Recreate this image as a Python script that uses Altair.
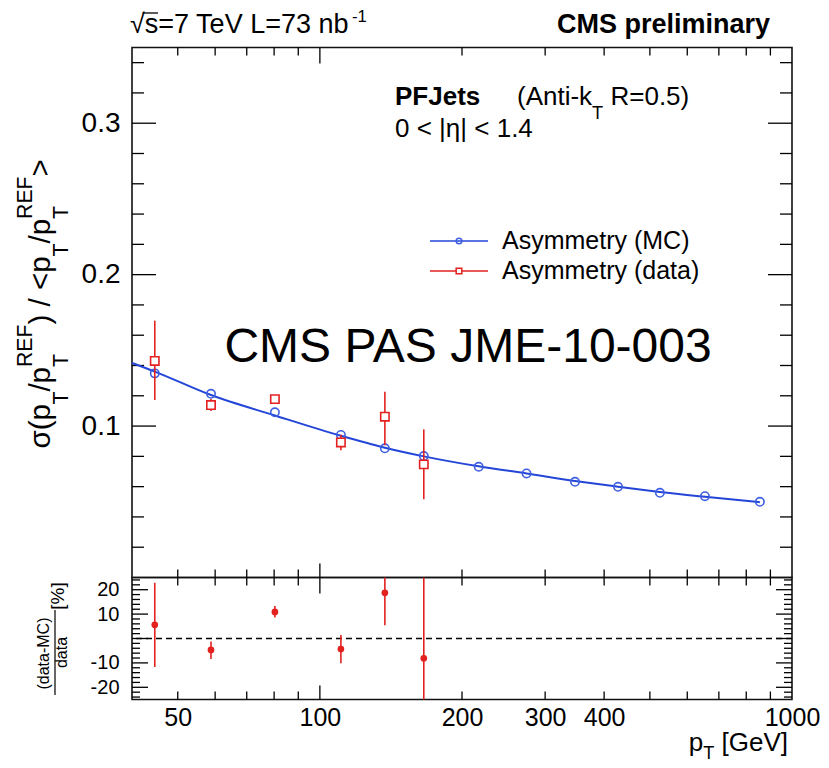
import altair as alt
import pandas as pd

# ---------------- values ----------------
# jet pT bin centres [GeV]
pt_bins = [44.7, 58.8, 80.3, 110.8, 137.3, 166.0, 217.0, 274.0, 347.0, 428.0, 525.0, 654.0, 855.0]
# asymmetry-based resolution, simulation
asym_mc = [0.1348, 0.1213, 0.1091, 0.0941, 0.0853, 0.0802, 0.0731, 0.0687, 0.0632, 0.0599, 0.0559, 0.0537, 0.0500]

# asymmetry-based resolution, collision data (first six bins)
pt_data = [44.7, 58.8, 80.3, 110.8, 137.3, 166.0]
asym_data = [0.1430, 0.1139, 0.1178, 0.0892, 0.1062, 0.0747]
asym_data_lo = [0.1172, 0.1099, 0.1160, 0.0841, 0.0874, 0.0517]
asym_data_hi = [0.1696, 0.1179, 0.1196, 0.0943, 0.1227, 0.0978]

# fitted resolution curve to the simulation
fit_pt = [40.0, 44.7, 58.8, 80.3, 110.8, 137.3, 166.0, 217.0, 274.0, 347.0, 428.0, 525.0, 654.0, 855.0]
fit_asym = [0.1417, 0.1360, 0.1205, 0.1070, 0.0936, 0.0857, 0.0800, 0.0734, 0.0687, 0.0638, 0.0600, 0.0565, 0.0533, 0.0497]

# (data - MC) / data in percent
diff_pct = [5.6, -4.7, 10.9, -4.3, 18.7, -8.1]
diff_pct_lo = [-11.7, -8.4, 8.6, -10.1, 5.4, -40.0]
diff_pct_hi = [22.8, -1.2, 13.3, 1.4, 32.0, 30.0]

# axis labels
x_labels = [50, 100, 200, 300, 400, 1000]
y_labels = [0.1, 0.2, 0.3]
ratio_labels = [-20, -10, 10, 20]

# tick marks (ROOT style, drawn inside the frame)
x_minor = [50, 60, 70, 80, 90, 200, 300, 400, 500, 600, 700, 800, 900]
x_major = [100]
y_minor = [0.02, 0.04, 0.06, 0.08, 0.12, 0.14, 0.16, 0.18, 0.22, 0.24, 0.26, 0.28, 0.32, 0.34]
y_major = [0.1, 0.2, 0.3]
r_minor = [-24, -22, -18, -16, -14, -12, -8, -6, -4, -2, 2, 4, 6, 8, 12, 14, 16, 18, 22, 24]
r_major = [-20, -10, 0, 10, 20]

# ---------------- style ----------------
FONT = "Liberation Sans"
BLUE_LINE = "#2446d8"
BLUE_MK = "#3d5fe0"
RED = "#e3211f"
W, H_MAIN, H_RATIO = 660, 530, 122
PAD_L, PAD_T = 132, 47.5

W_REG = {" ": .278, "(": .333, ")": .333, "-": .333, ".": .278, "/": .278, "<": .584, "=": .584,
         ">": .584, "|": .26, "[": .278, "]": .278, "%": .889, "A": .667, "C": .722, "E": .667,
         "F": .611, "G": .778, "J": .5, "L": .556, "M": .833, "P": .667, "R": .722, "S": .667,
         "T": .611, "V": .667, "a": .556, "b": .556, "d": .556, "e": .556, "i": .222, "k": .5,
         "m": .833, "n": .556, "p": .556, "r": .333, "s": .5, "t": .278, "y": .5, "η": .556,
         "σ": .6, "√": .549}
W_BOLD = {" ": .278, "C": .722, "M": .833, "S": .667, "P": .667, "F": .611, "J": .556, "a": .556,
          "e": .556, "i": .278, "l": .278, "m": .889, "n": .611, "p": .611, "r": .389, "s": .556,
          "t": .333, "y": .556}


def text_width(s, size, bold=False):
    tbl = W_BOLD if bold else W_REG
    return sum(tbl.get(c, .556) for c in s) * size


one = pd.DataFrame({"k": [0]})


def label(s, x, y, size, align="left", baseline="alphabetic", bold=False, angle=0, color="black"):
    kw = dict(text=s, font=FONT, fontSize=size, align=align, baseline=baseline,
              fontWeight="bold" if bold else "normal", color=color)
    if angle:
        kw["angle"] = angle
    return alt.Chart(one).mark_text(**kw).encode(x=alt.value(x), y=alt.value(y))


def rich(pieces, x, y, size, angle=0, anchor="left"):
    """Text with sub/superscripts: pieces are (text, scale, shift_em, advance)."""
    total, cur = 0.0, 0.0
    for t, sc, sh, adv in pieces:
        if adv:
            total += text_width(t, size * sc)
    start = {"left": 0.0, "center": -total / 2, "right": -total}[anchor]
    layers = []
    for t, sc, sh, adv in pieces:
        body = t.lstrip(" ")
        lead = text_width(t[:len(t) - len(body)], size * sc)
        kw = dict(text=body, font=FONT, fontSize=size * sc, align="left", baseline="alphabetic",
                  color="black", dx=start + cur + lead, dy=sh * size)
        if angle:
            kw["angle"] = angle
        layers.append(alt.Chart(one).mark_text(**kw).encode(x=alt.value(x), y=alt.value(y)))
        if adv:
            cur += text_width(t, size * sc)
    return layers


def seg(x1, x2, y1, y2, color="black", width=1.3, dash=None):
    kw = dict(color=color, strokeWidth=width)
    if dash:
        kw["strokeDash"] = dash
    return alt.Chart(one).mark_rule(**kw).encode(
        x=alt.value(x1), x2=alt.value(x2), y=alt.value(y1), y2=alt.value(y2))


xs = alt.Scale(type="log", domain=[40, 1000], nice=False)
ys = alt.Scale(domain=[0, 0.35], nice=False, zero=False)
yr = alt.Scale(domain=[-25, 25], nice=False, zero=False)

Y_AX = alt.Axis(values=y_labels, format=".1f", ticks=False, tickSize=0, domain=False, grid=False,
                labelFont=FONT, labelFontSize=28, labelColor="black", labelPadding=12, title=None)
R_AX = alt.Axis(values=ratio_labels, ticks=False, tickSize=0, domain=False, grid=False,
                labelExpr="datum.value < 0 ? '-' + abs(datum.value) : '' + datum.value",
                labelFont=FONT, labelFontSize=20, labelColor="black", labelPadding=13, title=None)
X_AX = alt.Axis(values=x_labels, format="d", ticks=False, tickSize=0, domain=False, grid=False,
                labelFont=FONT, labelFontSize=25, labelColor="black", labelPadding=6,
                labelFlush=False, labelOverlap=False, title=None)


def ticks_y(vals, scale, axis, length, right=False):
    df = pd.DataFrame({"v": vals})
    x1, x2 = (W - length, W) if right else (0, length)
    return alt.Chart(df).mark_rule(color="black", strokeWidth=1.3).encode(
        y=alt.Y("v:Q", scale=scale, axis=axis), x=alt.value(x1), x2=alt.value(x2))


def ticks_x(vals, axis, height, length, top=False):
    df = pd.DataFrame({"v": vals})
    y1, y2 = (0, length) if top else (height - length, height)
    return alt.Chart(df).mark_rule(color="black", strokeWidth=1.3).encode(
        x=alt.X("v:Q", scale=xs, axis=axis), y=alt.value(y1), y2=alt.value(y2))


# ---------------- upper panel ----------------
mc_df = pd.DataFrame({"pt": pt_bins, "asym": asym_mc})
fit_df = pd.DataFrame({"pt": fit_pt, "asym": fit_asym})
data_df = pd.DataFrame({"pt": pt_data, "asym": asym_data, "lo": asym_data_lo, "hi": asym_data_hi})

X_NONE = alt.X("pt:Q", scale=xs, axis=None)

fit_line = alt.Chart(fit_df).mark_line(color=BLUE_LINE, strokeWidth=2, interpolate="monotone").encode(
    x=X_NONE, y=alt.Y("asym:Q", scale=ys, axis=Y_AX))
mc_pts = alt.Chart(mc_df).mark_point(shape="circle", filled=False, size=70, strokeWidth=1.6,
                                     color=BLUE_MK, opacity=1).encode(
    x=X_NONE, y=alt.Y("asym:Q", scale=ys, axis=Y_AX))
data_err = alt.Chart(data_df).mark_rule(color=RED, strokeWidth=1.6).encode(
    x=X_NONE, y=alt.Y("lo:Q", scale=ys, axis=Y_AX), y2="hi:Q")
data_pts = alt.Chart(data_df).mark_point(shape="square", filled=True, fill="white", stroke=RED,
                                         size=70, strokeWidth=1.6, opacity=1).encode(
    x=X_NONE, y=alt.Y("asym:Q", scale=ys, axis=Y_AX))

main_ticks = [
    ticks_y(y_minor, ys, Y_AX, 12), ticks_y(y_major, ys, Y_AX, 24),
    ticks_y(y_minor, ys, Y_AX, 12, right=True), ticks_y(y_major, ys, Y_AX, 24, right=True),
    ticks_x(x_minor, None, H_MAIN, 8), ticks_x(x_major, None, H_MAIN, 14),
    ticks_x(x_minor, None, H_MAIN, 8, top=True), ticks_x(x_major, None, H_MAIN, 16, top=True),
]

main_text = []
# header
main_text += rich([("√s=7 TeV L=73 nb", 1, 0, True), ("-1", .62, -.42, True)], -2, -14.5, 27)
main_text.append(seg(10.5, 26, -34.5, -34.5, width=1.3))
main_text.append(label("CMS preliminary", 638, -14.5, 27, align="right", bold=True))
# jet algorithm / eta range
main_text.append(label("PFJets", 263, 57.5, 26, bold=True))
main_text += rich([("(Anti-k", 1, 0, True), ("T", .7, .55, True), (" R=0.5)", 1, 0, True)], 385, 57.5, 26)
main_text.append(label("0 < |η| < 1.4", 263, 89.5, 26))
# legend
main_text.append(seg(298, 356, 193.5, 193.5, color=BLUE_LINE, width=1.6))
main_text.append(alt.Chart(one).mark_point(shape="circle", filled=False, size=32, strokeWidth=1.5,
                                           color=BLUE_MK, opacity=1).encode(
    x=alt.value(327), y=alt.value(193.5)))
main_text.append(label("Asymmetry (MC)", 370, 193.5, 25, baseline="middle"))
main_text.append(seg(298, 356, 223.5, 223.5, color=RED, width=1.6))
main_text.append(alt.Chart(one).mark_point(shape="square", filled=True, fill="white", stroke=RED,
                                           size=32, strokeWidth=1.5, opacity=1).encode(
    x=alt.value(327), y=alt.value(223.5)))
main_text.append(label("Asymmetry (data)", 370, 223, 25, baseline="middle"))
# document reference
main_text.append(label("CMS PAS JME-10-003", 336, 314.5, 48, align="center"))
# y title
main_text += rich([
    ("σ(p", 1, 0, True), ("T", .72, .6, True), ("/p", 1, 0, True),
    ("T", .72, .6, False), ("REF", .72, -.6, True),
    (") / <p", 1, 0, True), ("T", .72, .6, True), ("/p", 1, 0, True),
    ("T", .72, .6, False), ("REF", .72, -.6, True), (">", 1, 0, True),
], -82, 401, 29.5, angle=270)

main = alt.layer(*main_ticks, fit_line, mc_pts, data_err, data_pts, *main_text).properties(
    width=W, height=H_MAIN)

# ---------------- ratio panel ----------------
ratio_df = pd.DataFrame({"pt": pt_data, "d": diff_pct, "lo": diff_pct_lo, "hi": diff_pct_hi})
X_R = alt.X("pt:Q", scale=xs, axis=X_AX)

zero_line = alt.Chart(pd.DataFrame({"z": [0]})).mark_rule(
    color="black", strokeWidth=1.4, strokeDash=[6, 4]).encode(y=alt.Y("z:Q", scale=yr, axis=R_AX))
ratio_err = alt.Chart(ratio_df).mark_rule(color=RED, strokeWidth=1.6, clip=True).encode(
    x=X_R, y=alt.Y("lo:Q", scale=yr, axis=R_AX), y2="hi:Q")
ratio_pts = alt.Chart(ratio_df).mark_circle(color=RED, size=45, opacity=1).encode(
    x=X_R, y=alt.Y("d:Q", scale=yr, axis=R_AX))

ratio_ticks = [
    ticks_y(r_minor, yr, R_AX, 8), ticks_y(r_major, yr, R_AX, 16),
    ticks_y(r_minor, yr, R_AX, 8, right=True), ticks_y(r_major, yr, R_AX, 16, right=True),
    ticks_x(x_minor, X_AX, H_RATIO, 8), ticks_x(x_major, X_AX, H_RATIO, 14),
    ticks_x(x_minor, X_AX, H_RATIO, 8, top=True), ticks_x(x_major, X_AX, H_RATIO, 16, top=True),
]

ratio_text = []
ratio_text += rich([("p", 1, 0, True), ("T", .7, .34, True), (" [GeV]", 1, 0, True)], 656, 173, 26,
                   anchor="right")
ratio_text.append(label("(data-MC)", -83, 76, 16, align="center", angle=270))
ratio_text.append(seg(-77, -77, 32.5, 117.5, width=1.2))
ratio_text.append(label("data", -65, 75, 16, align="center", angle=270))
ratio_text.append(label("[%]", -68, 18.5, 19, align="center", angle=270))

ratio = alt.layer(*ratio_ticks, zero_line, ratio_err, ratio_pts, *ratio_text).properties(
    width=W, height=H_RATIO)

# the concat layout fixes the view width to the panel width; its height signal stays 0
chart = alt.vconcat(main, ratio, spacing=0, bounds="flush").resolve_scale(
    x="independent", y="independent").properties(
    padding={"left": PAD_L, "top": PAD_T, "right": 829 - PAD_L - W, "bottom": 768 - PAD_T},
    autosize=alt.AutoSizeParams(type="none"),
    background="white",
).configure_view(stroke="#111111", strokeWidth=1.6)

chart.save("out.html", embed_options={"renderer": "svg", "actions": False})
